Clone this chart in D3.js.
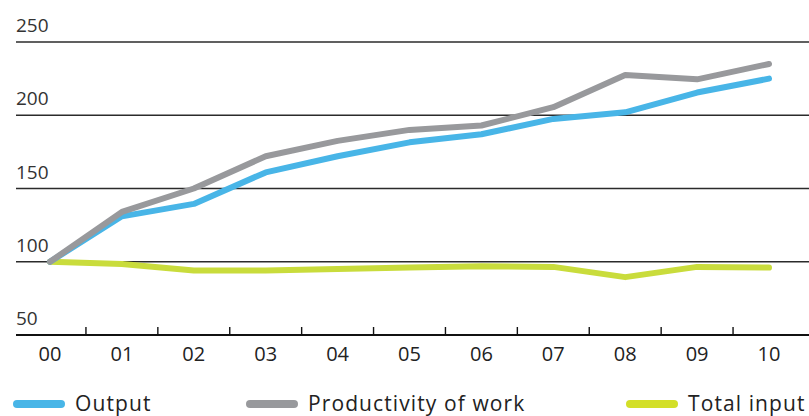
<!DOCTYPE html>
<html>
<head>
<meta charset="utf-8">
<script src="https://cdn.jsdelivr.net/npm/d3@7"></script>
<style>
  body { margin: 0; background: #fff; }
  svg { display: block; }
</style>
</head>
<body>
<div class="graph"></div>
<script>
const years = ["00","01","02","03","04","05","06","07","08","09","10"];
const output = [100, 131, 139.5, 161, 172, 181.5, 187, 197.5, 202, 215.5, 225];
const productivity = [100, 134, 150, 172, 182.5, 190, 193, 205.5, 227.5, 224.5, 235];
const totalInput = [100, 98.5, 94, 94, 95, 96, 97, 96.5, 89.5, 96.5, 96];
const yTicks = [50, 100, 150, 200, 250];

const seriesNames = ["Output", "Productivity of work", "Total input"];
const seriesColors = ["#48b5e7", "#98999c", "#c9dc3c"];
const legendColors = ["#48b5e7", "#98999c", "#d3df27"];

let width = 809;
let height = 416;

let svg = d3.select(".graph")
  .append("svg")
  .attr("width", width)
  .attr("height", height);

let x = d3.scalePoint().domain(years).range([50, 769]);
let y = d3.scaleLinear().domain([50, 250]).range([335, 42]);

// horizontal grid lines + labels sitting above them
yTicks.forEach(function(t){
  if (t > 50) {
    svg.append("line")
      .attr("x1", 16).attr("x2", width)
      .attr("y1", y(t)).attr("y2", y(t))
      .attr("stroke", "#2b2b2b")
      .attr("stroke-width", 1.4);
  }
  svg.append("text")
    .attr("x", 16)
    .attr("y", y(t) - 10)
    .attr("font-family", "'Open Sans', sans-serif")
    .attr("font-size", 19)
    .attr("fill", "#333")
    .text(t);
});

// data lines
let line = d3.line()
  .x(function(d, i){ return x(years[i]); })
  .y(function(d){ return y(d); });

// green first, then blue, gray on top
[[totalInput, 2], [output, 0], [productivity, 1]].forEach(function(s){
  svg.append("path")
    .datum(s[0])
    .attr("d", line)
    .attr("fill", "none")
    .attr("stroke", seriesColors[s[1]])
    .attr("stroke-width", 6)
    .attr("stroke-linejoin", "round")
    .attr("stroke-linecap", "round");
});

// x axis
svg.append("line")
  .attr("x1", 16).attr("x2", width)
  .attr("y1", y(50)).attr("y2", y(50))
  .attr("stroke", "#111")
  .attr("stroke-width", 2.2);

let mids = d3.pairs(years).map(function(p){ return (x(p[0]) + x(p[1])) / 2; });
svg.selectAll(".tick")
  .data(mids)
  .enter().append("line")
  .attr("x1", function(d){ return d; })
  .attr("x2", function(d){ return d; })
  .attr("y1", y(50))
  .attr("y2", y(50) - 8)
  .attr("stroke", "#111")
  .attr("stroke-width", 1.4);

svg.selectAll(".xlab")
  .data(years)
  .enter().append("text")
  .attr("x", function(d){ return x(d); })
  .attr("y", 361)
  .attr("text-anchor", "middle")
  .attr("font-family", "'Open Sans', sans-serif")
  .attr("font-size", 20)
  .attr("fill", "#222")
  .text(String);

// legend
const legendX = [13, 246, 626];
seriesNames.forEach(function(name, i){
  svg.append("line")
    .attr("x1", legendX[i] + 4).attr("x2", legendX[i] + 48)
    .attr("y1", 404).attr("y2", 404)
    .attr("stroke", legendColors[i])
    .attr("stroke-width", 8)
    .attr("stroke-linecap", "round");
  svg.append("text")
    .attr("x", legendX[i] + 62)
    .attr("y", 411)
    .attr("font-family", "'Open Sans', sans-serif")
    .attr("font-size", 21)
    .attr("letter-spacing", 1.1)
    .attr("fill", "#222")
    .text(name);
});
</script>
</body>
</html>
